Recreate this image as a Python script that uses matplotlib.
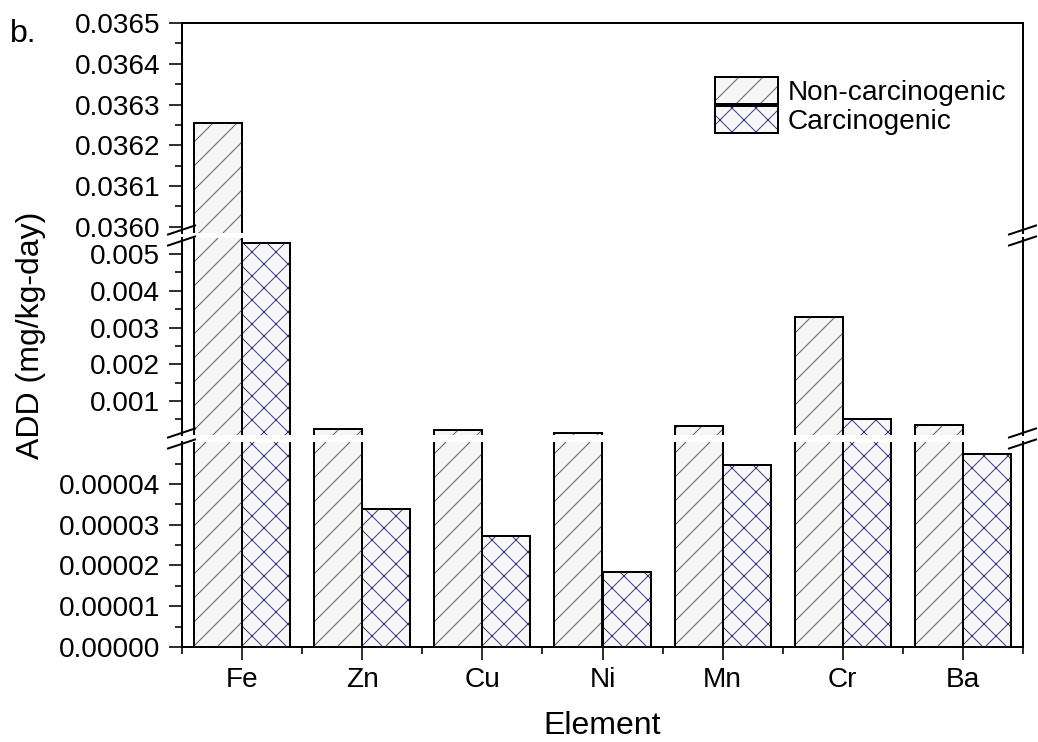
import numpy as np
import matplotlib
matplotlib.use("Agg")
import matplotlib.pyplot as plt
from matplotlib.lines import Line2D
from matplotlib.patches import Patch
from matplotlib.ticker import FixedLocator, FormatStrFormatter

# ADD values per element (mg/kg-day)
elements = ['Fe', 'Zn', 'Cu', 'Ni', 'Mn', 'Cr', 'Ba']
non_carc = [0.036254, 0.000241, 0.000205, 0.000115, 0.000307, 0.00328, 0.000334]
carc = [0.00530, 0.0000339, 0.0000273, 0.0000185, 0.0000447, 0.000499, 0.0000474]

# broken y axis: top, middle, bottom segments
seg_lims = [(0.035985, 0.0365), (0.00007, 0.00544), (0.0, 0.0000503)]
seg_major = [[0.0360, 0.0361, 0.0362, 0.0363, 0.0364, 0.0365],
             [0.001, 0.002, 0.003, 0.004, 0.005],
             [0.0, 0.00001, 0.00002, 0.00003, 0.00004]]
seg_minor = [[0.03605, 0.03615, 0.03625, 0.03635, 0.03645],
             [0.0005, 0.0015, 0.0025, 0.0035, 0.0045],
             [0.000005, 0.000015, 0.000025, 0.000035, 0.000045]]
seg_fmt = ['%.4f', '%.3f', '%.5f']

plt.rcParams['font.family'] = ['Liberation Sans', 'DejaVu Sans']
plt.rcParams['hatch.linewidth'] = 0.9

W, H = 1038, 742
fig = plt.figure(figsize=(W / 72, H / 72), dpi=72)
fig.patch.set_facecolor('white')

left, right = 182 / W, 1023 / W
# pixel rows (from top) of each segment
rows = [(23, 233), (238, 435), (442, 647)]
axes = []
for top_px, bot_px in rows:
    ax = fig.add_axes([left, 1 - bot_px / H, right - left, (bot_px - top_px) / H])
    axes.append(ax)

face = '#f6f6f6'
c_nc = '#505050'
c_c = '#2e2e78'
x = np.arange(len(elements))
bw = 0.4

for i, ax in enumerate(axes):
    ax.bar(x - bw / 2, non_carc, bw, facecolor=face, edgecolor=c_nc, hatch='/', lw=0)
    ax.bar(x + bw / 2, carc, bw, facecolor=face, edgecolor=c_c, hatch='x', lw=0)
    ax.bar(x - bw / 2, non_carc, bw, fill=False, edgecolor='black', lw=2)
    ax.bar(x + bw / 2, carc, bw, fill=False, edgecolor='black', lw=2)
    ax.set_xlim(-0.5, 6.5)
    ax.set_ylim(*seg_lims[i])
    ax.yaxis.set_major_locator(FixedLocator(seg_major[i]))
    ax.yaxis.set_minor_locator(FixedLocator(seg_minor[i]))
    ax.yaxis.set_major_formatter(FormatStrFormatter(seg_fmt[i]))
    for s in ax.spines.values():
        s.set_linewidth(2)
    ax.spines['top'].set_visible(i == 0)
    ax.spines['bottom'].set_visible(i == 2)
    ax.tick_params(axis='y', which='major', direction='out', length=13, width=1.6,
                   pad=9, labelsize=28, right=False)
    ax.tick_params(axis='y', which='minor', direction='out', length=7, width=1.6, right=False)
    if i < 2:
        ax.tick_params(axis='x', which='both', bottom=False, top=False, labelbottom=False)

axb = axes[2]
axb.set_xticks(x)
axb.set_xticklabels(elements)
axb.xaxis.set_minor_locator(FixedLocator(np.arange(-0.5, 7, 1.0)))
axb.tick_params(axis='x', which='major', direction='out', length=13, width=1.6,
                pad=7, labelsize=28, top=False)
axb.tick_params(axis='x', which='minor', direction='out', length=7, width=1.6, top=False)

# break marks on left and right spines
for upper, lower in [(rows[0][1], rows[1][0]), (rows[1][1], rows[2][0])]:
    yc = (upper + lower) / 2
    for xs in (182, 1023):
        for off in (-5.5, 5.5):
            y0 = yc + off + 4.5
            y1 = yc + off - 4.5
            fig.add_artist(Line2D([(xs - 14) / W, (xs + 13) / W],
                                  [1 - y0 / H, 1 - y1 / H],
                                  color='black', lw=2, transform=fig.transFigure))

# legend
h_nc = (Patch(facecolor=face, edgecolor=c_nc, hatch='/', lw=0),
        Patch(fill=False, edgecolor='black', lw=2))
h_c = (Patch(facecolor=face, edgecolor=c_c, hatch='x', lw=0),
       Patch(fill=False, edgecolor='black', lw=2))
axes[0].legend([h_nc, h_c], ['Non-carcinogenic', 'Carcinogenic'],
               loc='upper left', bbox_to_anchor=(715 / W, 1 - 77 / H),
               bbox_transform=fig.transFigure, frameon=False, fontsize=28,
               handlelength=2.25, handleheight=1.1, labelspacing=0,
               handletextpad=0.35, borderpad=0, borderaxespad=0)

fig.text(31 / W, 1 - 335 / H, 'ADD (mg/kg-day)', rotation=90, fontsize=32,
         ha='center', va='center')
fig.text(602 / W, 1 - 734 / H, 'Element', fontsize=32, ha='center', va='baseline')
fig.text(10 / W, 1 - 42 / H, 'b.', fontsize=32, ha='left', va='baseline')

fig.savefig('out.png', dpi=72)
